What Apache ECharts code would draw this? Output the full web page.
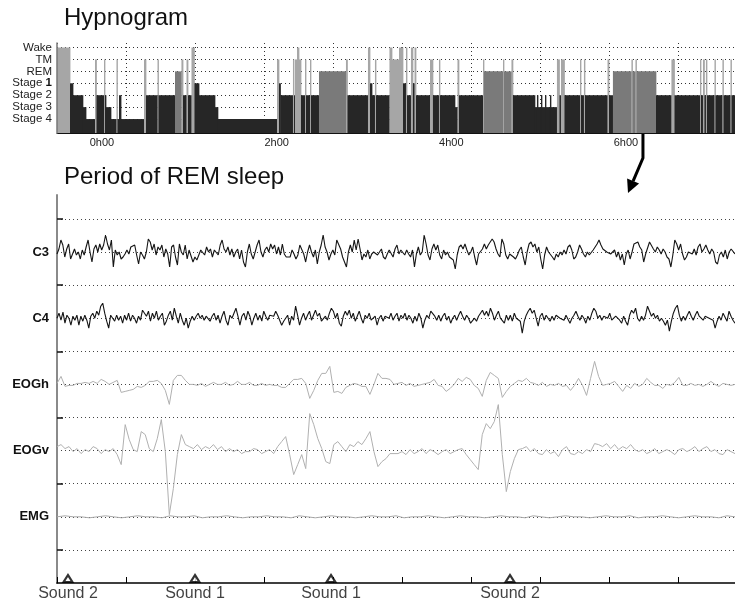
<!DOCTYPE html>
<html>
<head>
<meta charset="utf-8">
<script src="https://cdn.jsdelivr.net/npm/echarts@6/dist/echarts.min.js"></script>
<style>
  html, body { margin: 0; padding: 0; background: #fff; }
  #chart { width: 735px; height: 603px; }
</style>
</head>
<body>
<div id="chart"></div>
<script>
// ---- Hypnogram: each epoch run starts at hypnoStart (hours from 0h00) with stage hypnoStage ----
const stageLabels = ['Stage 4', 'Stage 3', 'Stage 2', 'Stage 1', 'REM', 'TM', 'Wake']; // ranks 1..7
const hypnoTicks = [0, 2, 4, 6];
const hypnoStart = [
  -0.515,-0.366,-0.332,-0.218,-0.183,-0.080,-0.063,0.023,0.034,0.046,
  0.103,0.166,0.177,0.195,0.218,0.481,0.504,0.636,0.647,0.836,
  0.910,0.928,0.968,0.985,1.025,1.059,1.111,1.294,1.328,2.004,
  2.027,2.044,2.187,2.199,2.210,2.233,2.256,2.279,2.325,2.336,
  2.382,2.393,2.485,2.794,2.811,3.046,3.069,3.092,3.126,3.138,
  3.292,3.321,3.401,3.447,3.481,3.493,3.538,3.561,3.579,3.596,
  3.756,3.790,3.859,3.870,4.042,4.071,4.088,4.363,4.374,4.592,
  4.603,4.689,4.706,4.958,4.981,4.993,5.027,5.038,5.073,5.084,
  5.130,5.141,5.210,5.239,5.256,5.296,5.474,5.485,5.519,5.531,
  5.789,5.806,5.851,6.063,6.075,6.109,6.121,6.344,6.521,6.556,
  6.848,6.859,6.882,6.899,6.916,6.928,7.014,7.025,7.105,7.117,
  7.197,7.209
];
const hypnoStage = [
  'W','1','2','3','4','M','2','M','2','3',
  '4','M','4','2','4','M','2','M','2','R',
  'M','2','M','2','W','1','2','3','4','M',
  '1','2','M','2','M','W','M','2','M','2',
  'M','2','R','M','2','W','1','2','M','2',
  'W','M','W','1','W','2','W','1','W','2',
  'M','2','M','2','3','M','2','M','R','M',
  'R','M','2','3','2','3','2','3','2','3',
  '2','3','M','2','M','2','M','2','M','2',
  'M','2','R','M','R','M','R','2','M','2',
  'M','2','M','2','M','2','M','2','M','2',
  'M','2'
];
const hypnoEnd = 7.249;

// ---- REM period traces (deflections from each channel's baseline) ----
const channelNames = ['C3', 'C4', 'EOGh', 'EOGv', 'EMG'];
const c3 = [
  -2,3,12,7,-5,3,8,-7,-2,3,-3,0,-7,2,-3,5,12,0,-10,3,7,0,8,2,7,17,8,2,12,-15,2,-3,0,-7,-5,-2,2,-2,5,3,7,-3,-12,0,-3,-7,0,13,10,2,8,-3,5,2,7,-5,3,-2,-15,5,7,-5,-13,8,0,-3,7,-7,2,0,-10,-5,-8,-3,2,3,-3,5,0,3,-5,2,0,-3,7,12,3,0,5,-3,3,-5,0,3,-7,2,-10,-15,0,8,-2,-7,0,7,12,0,-5,2,5,0,8,3,7,-2,5,-3,8,-2,-5,-3,
  -5,2,-2,-7,-3,7,8,-2,-10,0,7,0,-5,2,-12,0,7,17,5,0,-8,-2,2,-3,12,13,3,-5,-3,-15,0,7,0,12,2,13,3,-8,-2,-5,2,-7,-2,0,2,-3,0,3,-5,-7,-2,2,0,-5,3,7,-2,2,3,-3,2,-2,-5,2,-15,-2,5,-3,0,17,8,-3,-8,3,8,2,7,-3,-7,2,-3,0,-5,-3,-8,-17,-3,5,7,3,8,2,-3,0,5,-5,-13,-2,-3,3,8,3,7,8,13,10,3,-2,-5,13,8,-3,-7,-2,-3,
  -5,-7,-3,2,5,-5,-13,0,8,10,5,8,0,5,-7,-17,-3,5,0,2,-5,-8,-2,-5,0,-3,2,-2,5,7,2,-7,-5,0,7,3,-2,-5,0,-3,-2,2,3,8,12,7,3,2,0,2,-2,-3,2,-5,0,-8,-2,-13,-2,2,-7,0,8,7,10,5,2,-10,-2,-3,10,12,3,0,5,2,-2,3,0,-5,-7,-15,-3,12,8,2,8,-2,-8,-5,0,2,-2,3,-3,5,8,0,3,7,2,-2,3,0,-10,-12,-3,0,-5,2,-7,0,3,2,-2
];
const c4 = [
  0,5,-2,6,-5,3,0,-7,2,-2,3,-7,2,-3,3,-2,-10,2,5,0,7,3,12,15,5,-3,-10,3,0,-3,3,-2,2,-5,3,-2,5,-3,3,0,-5,2,-2,8,10,2,7,-3,5,0,7,-2,2,5,-7,-3,3,7,-2,10,2,-5,5,-2,-7,0,-10,-3,2,-2,2,5,0,3,-2,2,0,-3,2,5,-2,3,-5,2,7,-2,-7,3,0,5,10,2,-7,2,5,-2,7,2,-7,0,5,-2,3,-3,7,2,-2,3,5,2,7,3,-2,-7,-3,
  -3,3,-7,2,-2,12,3,-7,0,5,-2,3,7,-2,3,8,2,5,-3,-5,2,-2,5,10,7,0,5,-5,-8,2,7,3,8,0,5,-3,2,7,0,-5,3,0,5,-2,-3,2,-7,0,3,-3,2,3,0,5,-2,2,5,-3,3,0,5,-2,3,0,-5,2,-3,5,0,-10,-2,3,0,7,8,2,-2,3,-3,2,5,-2,2,-5,0,3,-2,3,7,2,-2,3,0,-5,-7,0,-3,2,5,8,3,7,2,10,5,-2,3,7,0,2,-5,3,-2,
  3,-3,5,0,2,-3,-15,-3,3,7,10,5,8,0,-8,2,5,-2,3,0,-3,2,-2,3,5,0,2,-2,3,5,-5,0,3,7,2,-2,3,0,-5,2,-2,5,10,7,0,3,-2,2,3,0,5,-2,-3,2,3,-2,-5,2,-3,-7,3,8,5,10,0,-3,2,-2,3,12,7,2,5,0,3,-3,0,-3,-7,-2,-13,-3,5,10,13,3,-3,2,-2,3,7,2,-2,3,7,2,3,-2,2,3,0,2,-2,-10,-3,2,-2,5,3,-3,7,2,-2,-5
];
const eogh = [
  1,8,-2,-1,-1,1,1,2,1,3, 1,5,3,0,2,4,-8,-7,-6,-5, -2,-3,-1,3,3,4,1,-6,-20,4, 9,9,4,0,0,-1,1,-2,0,2,
  0,0,2,-1,0,3,0,0,2,-1, -1,1,-1,0,-1,-1,-3,-3,1,5, 5,6,1,-14,-6,4,11,11,18,-8, -7,-9,-3,-1,1,0,-2,-2,-10,0,
  11,6,6,5,0,
  1,2,-1,1,-2,-1,0,1,2,5, -1,-2,-7,-4,0,6,3,7,5,-1, -4,-12,4,12,9,6,-13,-7,-2,1, 4,3,6,2,1,-1,2,-2,0,-1,
  1,-2,-1,-6,-1,6,-1,-11,6,23, 8,-1,0,1,3,-2,-7,-1,-4,1, -2,0,6,2,-1,-1,-4,0,-1,2, 7,-1,-1,1,-1,0,-2,0,3,0,
  -2,1,0,-1,0
];
const eogv = [
  4,6,2,4,-1,2,-3,1,-1,4, 2,-3,1,-1,2,-4,-14,26,11,1, -1,19,16,2,-1,12,31,-1,-64,-38, -4,16,6,4,2,6,1,4,2,6,
  1,4,-1,2,-1,1,-3,-1,-1,2, 1,-3,-1,1,-3,4,9,14,-4,-24, -14,-4,-18,37,26,12,2,-11,-13,6, 9,4,-1,6,4,9,6,12,19,-1,
  -16,-11,-8,-3,-3,
  -3,-1,-4,1,-3,-1,2,-3,1,-1, -4,-1,1,-3,-1,1,2,-4,-9,-14, -19,16,27,22,29,46,-4,-41,-21,-8, 1,2,4,-1,2,-3,-4,1,-3,-1,
  -6,1,4,-3,-4,-1,-3,1,-1,7, 6,4,7,2,6,1,4,2,6,1, -1,1,-3,-1,2,-3,-1,1,-1,-4, 1,2,-1,1,4,-1,2,4,-1,1,
  -3,-4,1,-1,-3
];
const emg = [
  0,1,0,0,-1,0,1,0,-1,0, 1,0,0,-1,1,0,0,1,-1,0, 0,1,0,-1,0,0,1,0,0,-1, 1,0,-1,0,1,0,0,-1,0,1,
  0,0,1,-1,0,0,1,0,-1,0, 1,0,0,-1,0,1,0,0,-1,1, 0,-1,0,1,0,0,-1,0,1,0, 0,1,-1,0,0,1,0,-1,0,1,
  0,0,-1,1,0
];

// ---- Sound stimuli during the REM period (seconds) ----
const soundTimes = [0.159, 2.0, 3.971, 6.565];
const soundNames = ['Sound 2', 'Sound 1', 'Sound 1', 'Sound 2'];

// ---- layout constants ----
const FONT = '"Liberation Sans", Arial, Helvetica, sans-serif';
const HYP_MIN = -0.515, HYP_MAX = 7.249;   // hours shown in the hypnogram
const HYP_YMIN = -0.17, HYP_YMAX = 7.38;
const WIN = 9.826;                          // seconds shown in the REM panel
const EEG_YMIN = 0.5, EEG_YMAX = 6.361;
const SLOT = 66.2;                          // amplitude units per channel slot
const channelCenter = { C3: 5.5, C4: 4.5, EOGh: 3.5, EOGv: 2.5, EMG: 1.5 };
const REM_FROM_HOUR = 6.195, REM_TO_SEC = 8.275;

const stageRank = { W: 7, M: 6, R: 5, '1': 4, '2': 3, '3': 2, '4': 1 };
const hypData = hypnoStart.map((s, i) => [
  s, i < hypnoStart.length - 1 ? hypnoStart[i + 1] : hypnoEnd, stageRank[hypnoStage[i]]
]);
function stageColor(rank) {
  if (rank >= 6) return '#a6a6a6';
  if (rank === 5) return '#7a7a7a';
  return '#262626';
}

const dotted = { color: '#333', width: 1, type: [1, 3] };

function trace(values, name, color, width) {
  const step = WIN / (values.length - 1);
  const c = channelCenter[name];
  return {
    type: 'line', name, xAxisIndex: 3, yAxisIndex: 3,
    data: values.map((v, i) => [i * step, c + v / SLOT]),
    showSymbol: false, symbol: 'none', silent: true, animation: false, z: 3,
    lineStyle: { color, width }
  };
}

const hidden = { show: true, axisLine: { show: false }, axisTick: { show: false }, axisLabel: { show: false } };

const option = {
  backgroundColor: '#fff',
  animation: false,
  textStyle: { fontFamily: FONT },
  title: [
    { text: 'Hypnogram', left: 64, top: 6, padding: 0,
      textStyle: { fontSize: 24, fontWeight: 'normal', color: '#111', fontFamily: FONT } },
    { text: 'Period of REM sleep', left: 64, top: 165, padding: 0,
      textStyle: { fontSize: 24, fontWeight: 'normal', color: '#111', fontFamily: FONT } }
  ],
  grid: [
    { left: 57, right: 0, top: 43, height: 90 },        // 0 hypnogram
    { left: 57, right: 0, top: 47.5, height: 71.5 },    // 1 stage guide lines
    { left: 57, width: 621, top: 43, height: 90 },      // 2 vertical guide lines
    { left: 57, right: 0, top: 195, height: 388 },      // 3 REM traces
    { left: 57, right: 0, top: 218.9, height: 331 }     // 4 channel guide lines
  ],
  xAxis: [
    { gridIndex: 0, type: 'value', min: HYP_MIN, max: HYP_MAX,
      axisLine: { show: true, onZero: false, lineStyle: { color: '#111', width: 1 } },
      axisTick: { show: false }, splitLine: { show: false },
      axisLabel: { customValues: hypnoTicks, formatter: v => v + 'h00', fontSize: 11, color: '#222', margin: 4, fontFamily: FONT } },
    Object.assign({ gridIndex: 1, type: 'value', min: 0, max: 1, splitLine: { show: false } }, hidden),
    Object.assign({ gridIndex: 2, type: 'value', min: 0, max: 9, interval: 1, splitLine: { show: true, lineStyle: dotted } }, hidden),
    { gridIndex: 3, type: 'value', min: 0, max: WIN, interval: 1,
      axisLine: { show: true, onZero: false, lineStyle: { color: '#000', width: 1.5 } },
      axisTick: { show: true, inside: true, length: 6, lineStyle: { color: '#000', width: 1 } },
      axisLabel: { show: false }, splitLine: { show: false } },
    Object.assign({ gridIndex: 4, type: 'value', min: 0, max: 1, splitLine: { show: false } }, hidden)
  ],
  yAxis: [
    { gridIndex: 0, type: 'value', min: HYP_YMIN, max: HYP_YMAX, z: 4,
      axisLine: { show: true, onZero: false, lineStyle: { color: '#777', width: 1.5 } },
      axisTick: { show: false }, splitLine: { show: false },
      axisLabel: {
        customValues: [1, 2, 3, 4, 5, 6, 7], fontSize: 11.5, color: '#222', margin: 5, fontFamily: FONT,
        formatter: v => v === 4 ? '{n|Stage }{b|1}' : stageLabels[v - 1],
        rich: {
          n: { fontSize: 11.5, color: '#222', fontFamily: FONT },
          b: { fontWeight: 'bold', fontSize: 11.5, color: '#111', fontFamily: FONT }
        }
      } },
    Object.assign({ gridIndex: 1, type: 'value', min: 1, max: 7, interval: 1, splitLine: { show: true, lineStyle: dotted } }, hidden),
    Object.assign({ gridIndex: 2, type: 'value', min: 0, max: 1, splitLine: { show: false } }, hidden),
    { gridIndex: 3, type: 'value', min: EEG_YMIN, max: EEG_YMAX,
      axisLine: { show: true, onZero: false, lineStyle: { color: '#8a8a8a', width: 2 } },
      axisTick: { show: true, inside: true, length: 6, customValues: [1, 2, 3, 4, 5, 6], lineStyle: { color: '#111', width: 1.5 } },
      splitLine: { show: false },
      axisLabel: {
        customValues: channelNames.map(n => channelCenter[n]),
        formatter: v => channelNames.find(n => channelCenter[n] === v) || '',
        fontSize: 13, fontWeight: 'bold', color: '#111', margin: 8, fontFamily: FONT, padding: [5, 0, 0, 0]
      } },
    Object.assign({ gridIndex: 4, type: 'value', min: 1, max: 6, interval: 0.5, splitLine: { show: true, lineStyle: { color: '#444', width: 1, type: [1, 3] } } }, hidden)
  ],
  series: [
    {
      type: 'custom', name: 'hypnogram', xAxisIndex: 0, yAxisIndex: 0, z: 2, silent: true,
      encode: { x: [0, 1], y: 2 },
      data: hypData,
      renderItem(params, api) {
        const rank = api.value(2);
        const a = api.coord([api.value(0), rank]);
        const b = api.coord([api.value(1), rank]);
        const cs = params.coordSys;
        const bottom = cs.y + cs.height;
        const w = Math.max(1, b[0] - a[0]) + 0.4;
        return { type: 'rect', shape: { x: a[0], y: a[1], width: w, height: bottom - a[1] },
                 style: { fill: stageColor(rank) } };
      }
    },
    trace(emg, 'EMG', '#a8a8a8', 1),
    trace(eogv, 'EOGv', '#b0b0b0', 1),
    trace(eogh, 'EOGh', '#b0b0b0', 1),
    trace(c4, 'C4', '#151515', 1.1),
    trace(c3, 'C3', '#151515', 1.1),
    {
      type: 'scatter', name: 'sounds', xAxisIndex: 3, yAxisIndex: 3, z: 5, silent: true, clip: false,
      data: soundTimes.map((t, i) => ({ value: [t, EEG_YMIN], name: soundNames[i] })),
      symbol: 'triangle', symbolSize: [9, 7], symbolOffset: [0, -4.5],
      itemStyle: { color: '#fff', borderColor: '#000', borderWidth: 2 },
      label: { show: true, position: 'bottom', distance: 3, formatter: p => p.name,
               fontSize: 16, color: '#111', fontFamily: FONT }
    }
  ]
};

const chart = echarts.init(document.getElementById('chart'), null, { renderer: 'canvas' });
chart.setOption(option);

// Arrow linking the REM episode in the hypnogram to the expanded panel
const p0 = chart.convertToPixel({ xAxisIndex: 0, yAxisIndex: 0 }, [REM_FROM_HOUR, HYP_YMIN]);
const p2 = chart.convertToPixel({ xAxisIndex: 3, yAxisIndex: 3 }, [REM_TO_SEC, EEG_YMAX]);
const bend = [p0[0], p0[1] + 25];
const tip = [p2[0], p2[1] - 2];
const dx = tip[0] - bend[0], dy = tip[1] - bend[1];
const len = Math.hypot(dx, dy), ux = dx / len, uy = dy / len;
const base = [tip[0] - 13 * ux, tip[1] - 13 * uy];
const nx = -uy, ny = ux;
chart.setOption({
  graphic: [
    { type: 'polyline', silent: true, z: 10,
      shape: { points: [[p0[0], p0[1] + 1], bend, base] },
      style: { stroke: '#000', lineWidth: 3, fill: null } },
    { type: 'polygon', silent: true, z: 10,
      shape: { points: [tip, [base[0] + 6.5 * nx, base[1] + 6.5 * ny], [base[0] - 6.5 * nx, base[1] - 6.5 * ny]] },
      style: { fill: '#000' } }
  ]
});
</script>
</body>
</html>
